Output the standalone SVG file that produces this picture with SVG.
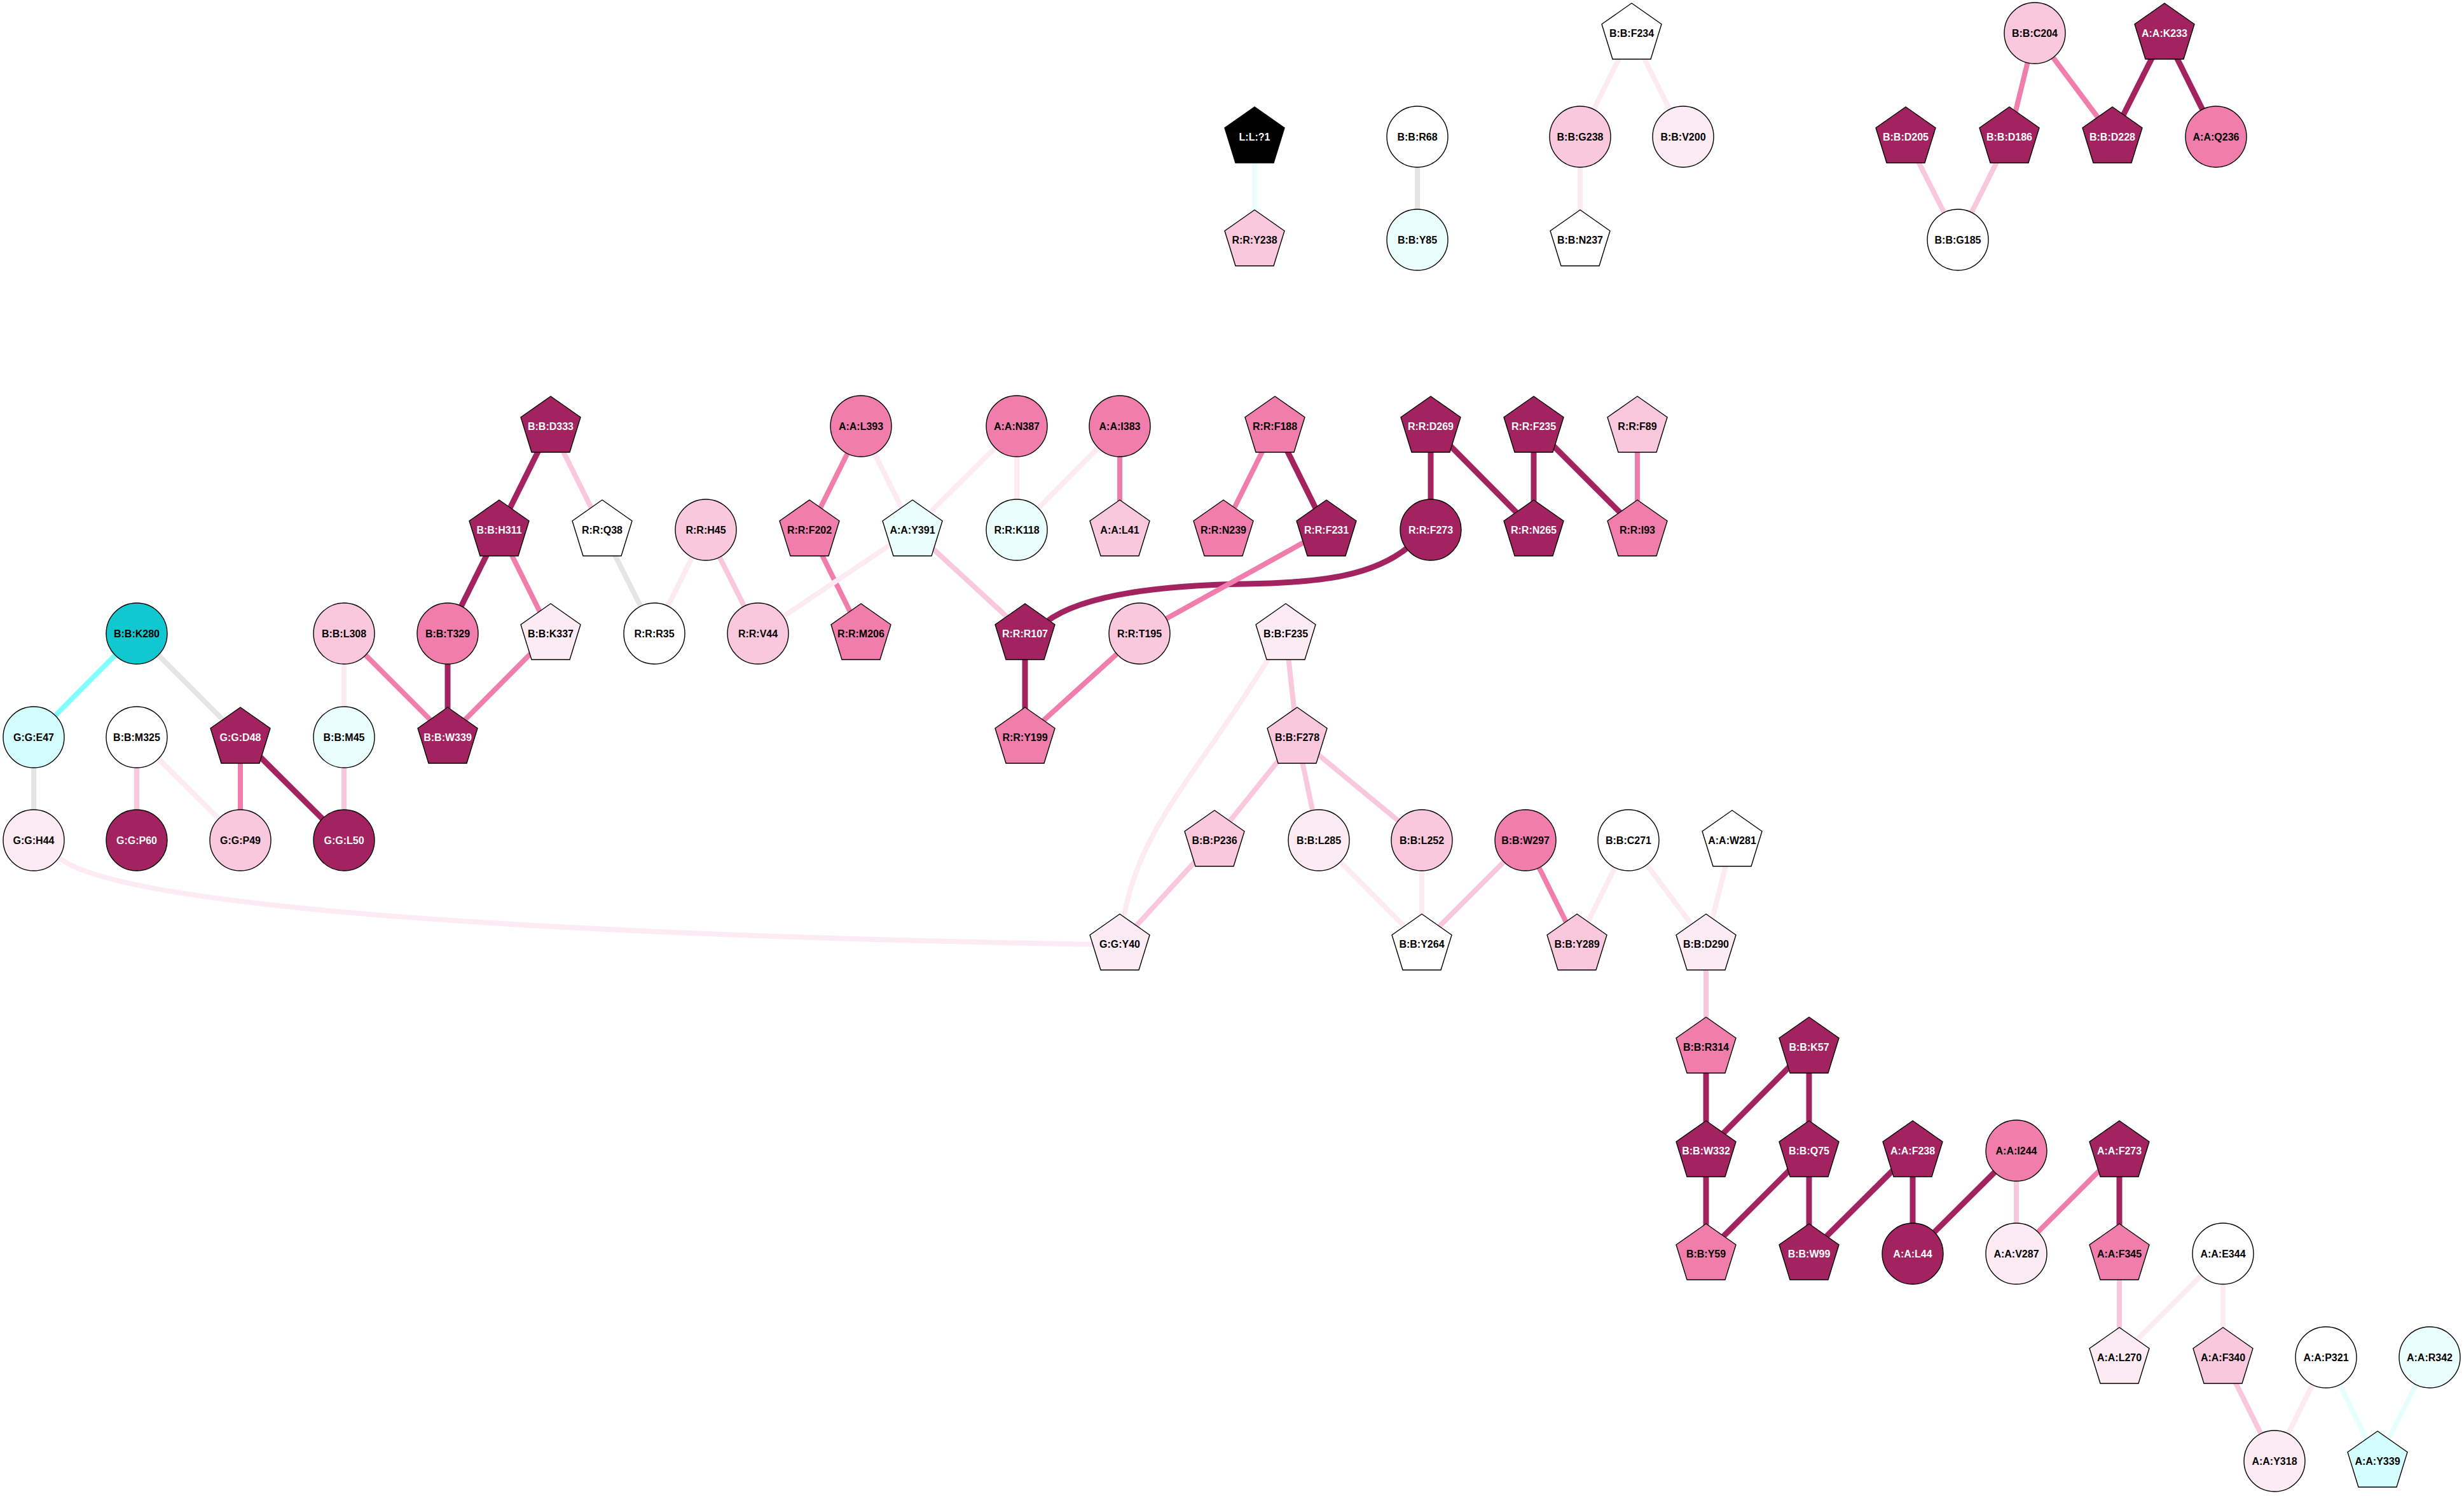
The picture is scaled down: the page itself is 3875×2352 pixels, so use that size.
<svg xmlns="http://www.w3.org/2000/svg" xmlns:xlink="http://www.w3.org/1999/xlink" width="3875" height="2352" viewBox="0 0 3875 2352">
<style>
.bg{fill:#ffffff}
.edges line,.edges path{fill:none;stroke-linecap:butt}
.e-dark{stroke:#A22360;stroke-width:9}
.e-med{stroke:#F07DAB;stroke-width:8}
.e-light{stroke:#F9C8DC;stroke-width:8}
.e-vlp{stroke:#FCEBF3;stroke-width:8}
.e-grey{stroke:#E5E5E5;stroke-width:8}
.e-cyan{stroke:#80FFFF;stroke-width:8}
.e-vlc{stroke:#E8FEFE;stroke-width:8}
.node circle,.node use{stroke:#000000;stroke-width:1.4}
.f-dark{fill:#A22360}
.f-med{fill:#F07DAB}
.f-light{fill:#F9C8DC}
.f-vlp{fill:#FCEBF3}
.f-white{fill:#FFFFFF}
.f-black{fill:#000000}
.f-cyan{fill:#11C7D0}
.f-lcyan{fill:#D4FEFE}
.f-vlc{fill:#EBFEFE}
text{font-family:"Liberation Sans",Arial,sans-serif;font-weight:bold;font-size:16px;text-anchor:middle;fill:#000000}
text.w{fill:#FFFFFF}
</style>
<defs>
<polygon id="pent" points="0,-47 47,-14 30,41 -30,41 -47,-14"/>
</defs>
<rect class="bg" x="0" y="0" width="3875" height="2352"/>
<g id="edges" class="edges">
<line class="e-vlc" x1="1973" y1="215" x2="1973" y2="377"/>
<line class="e-grey" x1="2229" y1="215" x2="2229" y2="377"/>
<line class="e-vlp" x1="2566" y1="52" x2="2485" y2="215"/>
<line class="e-vlp" x1="2566" y1="52" x2="2647" y2="215"/>
<line class="e-vlp" x1="2485" y1="215" x2="2485" y2="377"/>
<line class="e-med" x1="3200" y1="52" x2="3160" y2="215"/>
<line class="e-med" x1="3200" y1="52" x2="3322" y2="215"/>
<line class="e-dark" x1="3404" y1="52" x2="3322" y2="215"/>
<line class="e-dark" x1="3404" y1="52" x2="3485" y2="215"/>
<line class="e-light" x1="2997" y1="215" x2="3079" y2="377"/>
<line class="e-light" x1="3160" y1="215" x2="3079" y2="377"/>
<line class="e-dark" x1="866" y1="670" x2="785" y2="833"/>
<line class="e-light" x1="866" y1="670" x2="947" y2="833"/>
<line class="e-dark" x1="785" y1="833" x2="704" y2="996"/>
<line class="e-med" x1="785" y1="833" x2="866" y2="996"/>
<line class="e-dark" x1="704" y1="996" x2="704" y2="1159"/>
<line class="e-med" x1="541" y1="996" x2="704" y2="1159"/>
<line class="e-med" x1="866" y1="996" x2="704" y2="1159"/>
<line class="e-grey" x1="947" y1="833" x2="1029" y2="996"/>
<line class="e-vlp" x1="1110" y1="833" x2="1029" y2="996"/>
<line class="e-light" x1="1110" y1="833" x2="1192" y2="996"/>
<line class="e-med" x1="1354" y1="670" x2="1273" y2="833"/>
<line class="e-vlp" x1="1354" y1="670" x2="1435" y2="833"/>
<line class="e-vlp" x1="1599" y1="670" x2="1435" y2="833"/>
<line class="e-vlp" x1="1599" y1="670" x2="1599" y2="833"/>
<line class="e-vlp" x1="1761" y1="670" x2="1599" y2="833"/>
<line class="e-med" x1="1761" y1="670" x2="1761" y2="833"/>
<line class="e-med" x1="1273" y1="833" x2="1354" y2="996"/>
<line class="e-vlp" x1="1435" y1="833" x2="1192" y2="996"/>
<line class="e-light" x1="1435" y1="833" x2="1612" y2="996"/>
<line class="e-med" x1="2005" y1="670" x2="1924" y2="833"/>
<line class="e-dark" x1="2005" y1="670" x2="2086" y2="833"/>
<line class="e-dark" x1="2250" y1="670" x2="2250" y2="833"/>
<line class="e-dark" x1="2250" y1="670" x2="2412" y2="833"/>
<line class="e-dark" x1="2412" y1="670" x2="2412" y2="833"/>
<line class="e-dark" x1="2412" y1="670" x2="2575" y2="833"/>
<line class="e-med" x1="2575" y1="670" x2="2575" y2="833"/>
<path class="e-dark" d="M2215,860 C2160,905 2080,916 1960,918 C1840,920 1705,932 1645,978"/>
<line class="e-med" x1="2086" y1="833" x2="1792" y2="996"/>
<line class="e-med" x1="1792" y1="996" x2="1612" y2="1159"/>
<line class="e-dark" x1="1612" y1="996" x2="1612" y2="1159"/>
<line class="e-cyan" x1="215" y1="996" x2="53" y2="1159"/>
<line class="e-grey" x1="215" y1="996" x2="378" y2="1159"/>
<line class="e-vlp" x1="541" y1="996" x2="541" y2="1159"/>
<line class="e-grey" x1="53" y1="1159" x2="53" y2="1321"/>
<line class="e-light" x1="215" y1="1159" x2="215" y2="1321"/>
<line class="e-vlp" x1="215" y1="1159" x2="378" y2="1321"/>
<line class="e-med" x1="378" y1="1159" x2="378" y2="1321"/>
<line class="e-dark" x1="378" y1="1159" x2="541" y2="1321"/>
<line class="e-light" x1="541" y1="1159" x2="541" y2="1321"/>
<path class="e-vlp" d="M90,1346 C180,1430 900,1470 1725,1485"/>
<path class="e-vlp" d="M1998,1030 C1890,1210 1790,1300 1767,1445"/>
<line class="e-light" x1="2022" y1="996" x2="2040" y2="1159"/>
<line class="e-light" x1="2040" y1="1159" x2="1910" y2="1321"/>
<line class="e-light" x1="2040" y1="1159" x2="2074" y2="1321"/>
<line class="e-light" x1="2040" y1="1159" x2="2236" y2="1321"/>
<line class="e-light" x1="1910" y1="1321" x2="1761" y2="1484"/>
<line class="e-vlp" x1="2074" y1="1321" x2="2236" y2="1484"/>
<line class="e-vlp" x1="2236" y1="1321" x2="2236" y2="1484"/>
<line class="e-light" x1="2399" y1="1321" x2="2236" y2="1484"/>
<line class="e-med" x1="2399" y1="1321" x2="2480" y2="1484"/>
<line class="e-vlp" x1="2561" y1="1321" x2="2480" y2="1484"/>
<line class="e-vlp" x1="2561" y1="1321" x2="2683" y2="1484"/>
<line class="e-vlp" x1="2724" y1="1321" x2="2683" y2="1484"/>
<line class="e-light" x1="2683" y1="1484" x2="2683" y2="1646"/>
<line class="e-dark" x1="2683" y1="1646" x2="2683" y2="1809"/>
<line class="e-dark" x1="2845" y1="1646" x2="2683" y2="1809"/>
<line class="e-dark" x1="2845" y1="1646" x2="2845" y2="1809"/>
<line class="e-dark" x1="2683" y1="1809" x2="2683" y2="1971"/>
<line class="e-dark" x1="2845" y1="1809" x2="2683" y2="1971"/>
<line class="e-dark" x1="2845" y1="1809" x2="2845" y2="1971"/>
<line class="e-dark" x1="3008" y1="1809" x2="2845" y2="1971"/>
<line class="e-dark" x1="3008" y1="1809" x2="3008" y2="1971"/>
<line class="e-dark" x1="3171" y1="1809" x2="3008" y2="1971"/>
<line class="e-light" x1="3171" y1="1809" x2="3171" y2="1971"/>
<line class="e-med" x1="3333" y1="1809" x2="3171" y2="1971"/>
<line class="e-dark" x1="3333" y1="1809" x2="3333" y2="1971"/>
<line class="e-light" x1="3333" y1="1971" x2="3333" y2="2134"/>
<line class="e-vlp" x1="3496" y1="1971" x2="3333" y2="2134"/>
<line class="e-vlp" x1="3496" y1="1971" x2="3496" y2="2134"/>
<line class="e-light" x1="3496" y1="2134" x2="3577" y2="2297"/>
<line class="e-vlp" x1="3658" y1="2134" x2="3577" y2="2297"/>
<line class="e-vlc" x1="3658" y1="2134" x2="3739" y2="2297"/>
<line class="e-vlc" x1="3821" y1="2134" x2="3739" y2="2297"/>
</g>
<g id="nodes">
<g id="n-LL1" class="node"><use xlink:href="#pent" href="#pent" x="1973" y="215" class="f-black"/><text class="w" x="1973" y="221">L:L:?1</text></g>
<g id="n-RY238" class="node"><use xlink:href="#pent" href="#pent" x="1973" y="377" class="f-light"/><text x="1973" y="383">R:R:Y238</text></g>
<g id="n-BR68" class="node"><circle cx="2229" cy="215" r="48" class="f-white"/><text x="2229" y="221">B:B:R68</text></g>
<g id="n-BY85" class="node"><circle cx="2229" cy="377" r="48" class="f-vlc"/><text x="2229" y="383">B:B:Y85</text></g>
<g id="n-BF234" class="node"><use xlink:href="#pent" href="#pent" x="2566" y="52" class="f-white"/><text x="2566" y="58">B:B:F234</text></g>
<g id="n-BG238" class="node"><circle cx="2485" cy="215" r="48" class="f-light"/><text x="2485" y="221">B:B:G238</text></g>
<g id="n-BV200" class="node"><circle cx="2647" cy="215" r="48" class="f-vlp"/><text x="2647" y="221">B:B:V200</text></g>
<g id="n-BN237" class="node"><use xlink:href="#pent" href="#pent" x="2485" y="377" class="f-white"/><text x="2485" y="383">B:B:N237</text></g>
<g id="n-BC204" class="node"><circle cx="3200" cy="52" r="48" class="f-light"/><text x="3200" y="58">B:B:C204</text></g>
<g id="n-AK233" class="node"><use xlink:href="#pent" href="#pent" x="3404" y="52" class="f-dark"/><text class="w" x="3404" y="58">A:A:K233</text></g>
<g id="n-BD205" class="node"><use xlink:href="#pent" href="#pent" x="2997" y="215" class="f-dark"/><text class="w" x="2997" y="221">B:B:D205</text></g>
<g id="n-BD186" class="node"><use xlink:href="#pent" href="#pent" x="3160" y="215" class="f-dark"/><text class="w" x="3160" y="221">B:B:D186</text></g>
<g id="n-BD228" class="node"><use xlink:href="#pent" href="#pent" x="3322" y="215" class="f-dark"/><text class="w" x="3322" y="221">B:B:D228</text></g>
<g id="n-AQ236" class="node"><circle cx="3485" cy="215" r="48" class="f-med"/><text x="3485" y="221">A:A:Q236</text></g>
<g id="n-BG185" class="node"><circle cx="3079" cy="377" r="48" class="f-white"/><text x="3079" y="383">B:B:G185</text></g>
<g id="n-BD333" class="node"><use xlink:href="#pent" href="#pent" x="866" y="670" class="f-dark"/><text class="w" x="866" y="676">B:B:D333</text></g>
<g id="n-BH311" class="node"><use xlink:href="#pent" href="#pent" x="785" y="833" class="f-dark"/><text class="w" x="785" y="839">B:B:H311</text></g>
<g id="n-RQ38" class="node"><use xlink:href="#pent" href="#pent" x="947" y="833" class="f-white"/><text x="947" y="839">R:R:Q38</text></g>
<g id="n-RH45" class="node"><circle cx="1110" cy="833" r="48" class="f-light"/><text x="1110" y="839">R:R:H45</text></g>
<g id="n-RF202" class="node"><use xlink:href="#pent" href="#pent" x="1273" y="833" class="f-med"/><text x="1273" y="839">R:R:F202</text></g>
<g id="n-AY391" class="node"><use xlink:href="#pent" href="#pent" x="1435" y="833" class="f-vlc"/><text x="1435" y="839">A:A:Y391</text></g>
<g id="n-RK118" class="node"><circle cx="1599" cy="833" r="48" class="f-vlc"/><text x="1599" y="839">R:R:K118</text></g>
<g id="n-AL393" class="node"><circle cx="1354" cy="670" r="48" class="f-med"/><text x="1354" y="676">A:A:L393</text></g>
<g id="n-AN387" class="node"><circle cx="1599" cy="670" r="48" class="f-med"/><text x="1599" y="676">A:A:N387</text></g>
<g id="n-AI383" class="node"><circle cx="1761" cy="670" r="48" class="f-med"/><text x="1761" y="676">A:A:I383</text></g>
<g id="n-AL41" class="node"><use xlink:href="#pent" href="#pent" x="1761" y="833" class="f-light"/><text x="1761" y="839">A:A:L41</text></g>
<g id="n-RF188" class="node"><use xlink:href="#pent" href="#pent" x="2005" y="670" class="f-med"/><text x="2005" y="676">R:R:F188</text></g>
<g id="n-RD269" class="node"><use xlink:href="#pent" href="#pent" x="2250" y="670" class="f-dark"/><text class="w" x="2250" y="676">R:R:D269</text></g>
<g id="n-RF235" class="node"><use xlink:href="#pent" href="#pent" x="2412" y="670" class="f-dark"/><text class="w" x="2412" y="676">R:R:F235</text></g>
<g id="n-RF89" class="node"><use xlink:href="#pent" href="#pent" x="2575" y="670" class="f-light"/><text x="2575" y="676">R:R:F89</text></g>
<g id="n-RN239" class="node"><use xlink:href="#pent" href="#pent" x="1924" y="833" class="f-med"/><text x="1924" y="839">R:R:N239</text></g>
<g id="n-RF231" class="node"><use xlink:href="#pent" href="#pent" x="2086" y="833" class="f-dark"/><text class="w" x="2086" y="839">R:R:F231</text></g>
<g id="n-RF273" class="node"><circle cx="2250" cy="833" r="48" class="f-dark"/><text class="w" x="2250" y="839">R:R:F273</text></g>
<g id="n-RN265" class="node"><use xlink:href="#pent" href="#pent" x="2412" y="833" class="f-dark"/><text class="w" x="2412" y="839">R:R:N265</text></g>
<g id="n-RI93" class="node"><use xlink:href="#pent" href="#pent" x="2575" y="833" class="f-med"/><text x="2575" y="839">R:R:I93</text></g>
<g id="n-BK280" class="node"><circle cx="215" cy="996" r="48" class="f-cyan"/><text x="215" y="1002">B:B:K280</text></g>
<g id="n-BL308" class="node"><circle cx="541" cy="996" r="48" class="f-light"/><text x="541" y="1002">B:B:L308</text></g>
<g id="n-BT329" class="node"><circle cx="704" cy="996" r="48" class="f-med"/><text x="704" y="1002">B:B:T329</text></g>
<g id="n-BK337" class="node"><use xlink:href="#pent" href="#pent" x="866" y="996" class="f-vlp"/><text x="866" y="1002">B:B:K337</text></g>
<g id="n-RR35" class="node"><circle cx="1029" cy="996" r="48" class="f-white"/><text x="1029" y="1002">R:R:R35</text></g>
<g id="n-RV44" class="node"><circle cx="1192" cy="996" r="48" class="f-light"/><text x="1192" y="1002">R:R:V44</text></g>
<g id="n-RM206" class="node"><use xlink:href="#pent" href="#pent" x="1354" y="996" class="f-med"/><text x="1354" y="1002">R:R:M206</text></g>
<g id="n-RR107" class="node"><use xlink:href="#pent" href="#pent" x="1612" y="996" class="f-dark"/><text class="w" x="1612" y="1002">R:R:R107</text></g>
<g id="n-RT195" class="node"><circle cx="1792" cy="996" r="48" class="f-light"/><text x="1792" y="1002">R:R:T195</text></g>
<g id="n-BF235" class="node"><use xlink:href="#pent" href="#pent" x="2022" y="996" class="f-vlp"/><text x="2022" y="1002">B:B:F235</text></g>
<g id="n-GE47" class="node"><circle cx="53" cy="1159" r="48" class="f-lcyan"/><text x="53" y="1165">G:G:E47</text></g>
<g id="n-BM325" class="node"><circle cx="215" cy="1159" r="48" class="f-white"/><text x="215" y="1165">B:B:M325</text></g>
<g id="n-GD48" class="node"><use xlink:href="#pent" href="#pent" x="378" y="1159" class="f-dark"/><text class="w" x="378" y="1165">G:G:D48</text></g>
<g id="n-BM45" class="node"><circle cx="541" cy="1159" r="48" class="f-vlc"/><text x="541" y="1165">B:B:M45</text></g>
<g id="n-BW339" class="node"><use xlink:href="#pent" href="#pent" x="704" y="1159" class="f-dark"/><text class="w" x="704" y="1165">B:B:W339</text></g>
<g id="n-RY199" class="node"><use xlink:href="#pent" href="#pent" x="1612" y="1159" class="f-med"/><text x="1612" y="1165">R:R:Y199</text></g>
<g id="n-BF278" class="node"><use xlink:href="#pent" href="#pent" x="2040" y="1159" class="f-light"/><text x="2040" y="1165">B:B:F278</text></g>
<g id="n-GH44" class="node"><circle cx="53" cy="1321" r="48" class="f-vlp"/><text x="53" y="1327">G:G:H44</text></g>
<g id="n-GP60" class="node"><circle cx="215" cy="1321" r="48" class="f-dark"/><text class="w" x="215" y="1327">G:G:P60</text></g>
<g id="n-GP49" class="node"><circle cx="378" cy="1321" r="48" class="f-light"/><text x="378" y="1327">G:G:P49</text></g>
<g id="n-GL50" class="node"><circle cx="541" cy="1321" r="48" class="f-dark"/><text class="w" x="541" y="1327">G:G:L50</text></g>
<g id="n-BP236" class="node"><use xlink:href="#pent" href="#pent" x="1910" y="1321" class="f-light"/><text x="1910" y="1327">B:B:P236</text></g>
<g id="n-BL285" class="node"><circle cx="2074" cy="1321" r="48" class="f-vlp"/><text x="2074" y="1327">B:B:L285</text></g>
<g id="n-BL252" class="node"><circle cx="2236" cy="1321" r="48" class="f-light"/><text x="2236" y="1327">B:B:L252</text></g>
<g id="n-BW297" class="node"><circle cx="2399" cy="1321" r="48" class="f-med"/><text x="2399" y="1327">B:B:W297</text></g>
<g id="n-BC271" class="node"><circle cx="2561" cy="1321" r="48" class="f-white"/><text x="2561" y="1327">B:B:C271</text></g>
<g id="n-AW281" class="node"><use xlink:href="#pent" href="#pent" x="2724" y="1321" class="f-white"/><text x="2724" y="1327">A:A:W281</text></g>
<g id="n-GY40" class="node"><use xlink:href="#pent" href="#pent" x="1761" y="1484" class="f-vlp"/><text x="1761" y="1490">G:G:Y40</text></g>
<g id="n-BY264" class="node"><use xlink:href="#pent" href="#pent" x="2236" y="1484" class="f-white"/><text x="2236" y="1490">B:B:Y264</text></g>
<g id="n-BY289" class="node"><use xlink:href="#pent" href="#pent" x="2480" y="1484" class="f-light"/><text x="2480" y="1490">B:B:Y289</text></g>
<g id="n-BD290" class="node"><use xlink:href="#pent" href="#pent" x="2683" y="1484" class="f-vlp"/><text x="2683" y="1490">B:B:D290</text></g>
<g id="n-BR314" class="node"><use xlink:href="#pent" href="#pent" x="2683" y="1646" class="f-med"/><text x="2683" y="1652">B:B:R314</text></g>
<g id="n-BK57" class="node"><use xlink:href="#pent" href="#pent" x="2845" y="1646" class="f-dark"/><text class="w" x="2845" y="1652">B:B:K57</text></g>
<g id="n-BW332" class="node"><use xlink:href="#pent" href="#pent" x="2683" y="1809" class="f-dark"/><text class="w" x="2683" y="1815">B:B:W332</text></g>
<g id="n-BQ75" class="node"><use xlink:href="#pent" href="#pent" x="2845" y="1809" class="f-dark"/><text class="w" x="2845" y="1815">B:B:Q75</text></g>
<g id="n-AF238" class="node"><use xlink:href="#pent" href="#pent" x="3008" y="1809" class="f-dark"/><text class="w" x="3008" y="1815">A:A:F238</text></g>
<g id="n-AI244" class="node"><circle cx="3171" cy="1809" r="48" class="f-med"/><text x="3171" y="1815">A:A:I244</text></g>
<g id="n-AF273" class="node"><use xlink:href="#pent" href="#pent" x="3333" y="1809" class="f-dark"/><text class="w" x="3333" y="1815">A:A:F273</text></g>
<g id="n-BY59" class="node"><use xlink:href="#pent" href="#pent" x="2683" y="1971" class="f-med"/><text x="2683" y="1977">B:B:Y59</text></g>
<g id="n-BW99" class="node"><use xlink:href="#pent" href="#pent" x="2845" y="1971" class="f-dark"/><text class="w" x="2845" y="1977">B:B:W99</text></g>
<g id="n-AL44" class="node"><circle cx="3008" cy="1971" r="48" class="f-dark"/><text class="w" x="3008" y="1977">A:A:L44</text></g>
<g id="n-AV287" class="node"><circle cx="3171" cy="1971" r="48" class="f-vlp"/><text x="3171" y="1977">A:A:V287</text></g>
<g id="n-AF345" class="node"><use xlink:href="#pent" href="#pent" x="3333" y="1971" class="f-med"/><text x="3333" y="1977">A:A:F345</text></g>
<g id="n-AE344" class="node"><circle cx="3496" cy="1971" r="48" class="f-white"/><text x="3496" y="1977">A:A:E344</text></g>
<g id="n-AL270" class="node"><use xlink:href="#pent" href="#pent" x="3333" y="2134" class="f-vlp"/><text x="3333" y="2140">A:A:L270</text></g>
<g id="n-AF340" class="node"><use xlink:href="#pent" href="#pent" x="3496" y="2134" class="f-light"/><text x="3496" y="2140">A:A:F340</text></g>
<g id="n-AP321" class="node"><circle cx="3658" cy="2134" r="48" class="f-white"/><text x="3658" y="2140">A:A:P321</text></g>
<g id="n-AR342" class="node"><circle cx="3821" cy="2134" r="48" class="f-vlc"/><text x="3821" y="2140">A:A:R342</text></g>
<g id="n-AY318" class="node"><circle cx="3577" cy="2297" r="48" class="f-vlp"/><text x="3577" y="2303">A:A:Y318</text></g>
<g id="n-AY339" class="node"><use xlink:href="#pent" href="#pent" x="3739" y="2297" class="f-lcyan"/><text x="3739" y="2303">A:A:Y339</text></g>
</g>
</svg>
